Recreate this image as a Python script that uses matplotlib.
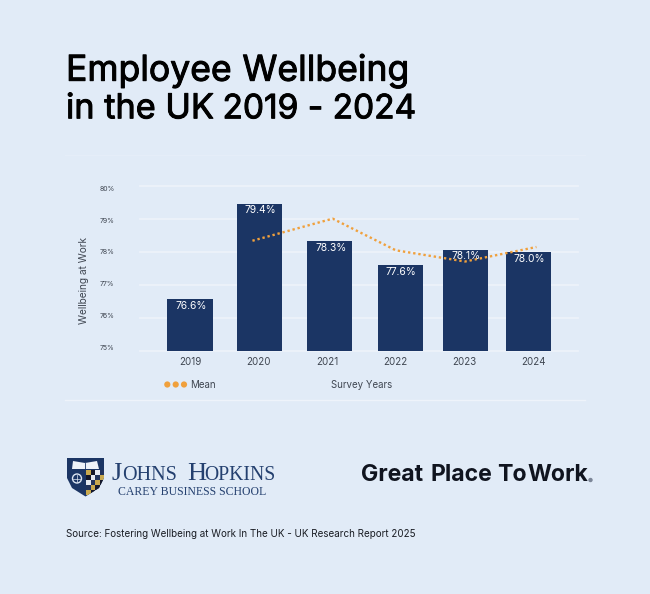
import matplotlib
matplotlib.use("Agg")
import matplotlib.pyplot as plt
import matplotlib.patheffects as pe
from matplotlib.patches import Polygon, Circle, Rectangle

years = [2019, 2020, 2021, 2022, 2023, 2024]
bar_values = [76.55, 79.45, 78.32, 77.58, 78.06, 77.98]
bar_labels = ['76.6%', '79.4%', '78.3%', '77.6%', '78.1%', '78.0%']
mean_years = [2020, 2021, 2022, 2023, 2024]
mean_values = [78.33, 79.0, 78.04, 77.7, 78.14]
y_ticks = [75, 76, 77, 78, 79, 80]
y_tick_labels = ['75%', '76%', '77%', '78%', '79%', '80%']

# the artwork is hand placed, so bars and line sit a little off the year ticks
bar_shift = [0, 0.02, 0.04, 0.07, 0.01, -0.06]
mean_shift = [-0.09, 0.08, 0.0, 0.01, 0.05]
# tick labels do not line up with the gridlines either, pixel rows from the top
y_label_rows = [347.7, 316, 284, 252.3, 220.7, 188.7]

BG = '#E1EBF7'
NAVY = '#1B3564'
ORANGE = '#F0A03C'
GRID = '#EEF3FA'
GREY = '#3F4651'
W, H = 650, 594

plt.rcParams['font.family'] = ['Inter', 'DejaVu Sans']
fig = plt.figure(figsize=(W / 100, H / 100), dpi=100, facecolor=BG)

# full figure axes in pixel coordinates for all the non chart parts
bg = fig.add_axes([0, 0, 1, 1])
bg.set_xlim(0, W)
bg.set_ylim(H, 0)
bg.axis('off')

# title, word groups placed separately to hit the original widths
heavier = [pe.withStroke(linewidth=0.7, foreground='black')]
for x, y, s, ha, size in [(66, 80.7, 'Employee', 'left', 25.6), (409, 80.7, 'Wellbeing', 'right', 25.6),
                          (66, 118.3, 'in the UK', 'left', 24.7), (416, 118.3, '2019 - 2024', 'right', 24.1)]:
    bg.text(x, y, s, fontsize=size, color='black', va='baseline', ha=ha, path_effects=heavier)

bg.plot([65, 585], [400, 400], color=GRID, lw=1)
bg.plot([65, 585], [155, 155], color='#E5EDF8', lw=1)

# chart, axes box runs 140-578 px across and 350.5-185.7 px down
ax = fig.add_axes([140 / W, 1 - 350.5 / H, 438 / W, (350.5 - 185.7) / H])
ax.set_facecolor('none')
px_per_year = 68.6
ax.set_xlim(2019 - 50 / px_per_year, 2019 + 388 / px_per_year)
ax.set_ylim(75, 80)
for t in y_ticks:
    ax.axhline(t, color=GRID, lw=1.2, zorder=1, clip_on=False)
bar_x = [y + s for y, s in zip(years, bar_shift)]
ax.bar(bar_x, [v - 75 for v in bar_values], bottom=75, width=0.656, color=NAVY, zorder=2)
for x, v, lab in zip(bar_x, bar_values, bar_labels):
    ax.text(x + 0.01, v - 0.2, lab, color='white', ha='center', va='center', fontsize=7.4, zorder=5)
mean_x = [y + s for y, s in zip(mean_years, mean_shift)]
ax.plot(mean_x, mean_values, color=ORANGE, lw=1.7, ls=(0, (1, 1.2)), zorder=4)
for s in ax.spines.values():
    s.set_visible(False)
ax.set_xticks(years)
ax.set_xticklabels(years, fontsize=7, color=GREY)
ax.set_yticks([])
ax.tick_params(length=0)
ax.tick_params(axis='x', pad=4.5)

for row, lab in zip(y_label_rows, y_tick_labels):
    bg.text(100, row, lab, fontsize=5, color=GREY, ha='left', va='center')

bg.text(84, 280, 'Wellbeing at Work', rotation=90, fontsize=7.3, color=GREY, ha='center', va='center')
bg.text(362, 384.5, 'Survey Years', fontsize=7, color=GREY, ha='center', va='center')
bg.text(190, 384.5, 'Mean', fontsize=7, color=GREY, ha='left', va='center')
for cx in [167.3, 175.7, 184]:
    bg.add_patch(Circle((cx, 384.5), 3.1, color=ORANGE, lw=0))

# Johns Hopkins shield
shield = Polygon([(67, 458), (104, 458), (104, 478), (99, 488), (85.5, 496.5), (72, 488), (67, 478)],
                 closed=True, color=NAVY, lw=0)
bg.add_patch(shield)
bg.add_patch(Polygon([(73, 461), (85, 463), (97, 461), (99, 469), (72, 469)], closed=True, color='#EEF2F8', lw=0))
bg.plot([85, 85], [463, 469], color=NAVY, lw=0.6)
bg.add_patch(Circle((77, 478.5), 5.2, fc='#DCE5F2', ec='none'))
bg.add_patch(Circle((77, 478.5), 3.8, fc=NAVY, ec='none'))
bg.plot([73, 81], [478.5, 478.5], color='#DCE5F2', lw=0.5)
bg.plot([77, 77], [475, 482], color='#DCE5F2', lw=0.5)
check = ['#C9A94E', '#15182A', '#E6EAF1', '#22345C']
for i in range(4):
    for j in range(5):
        r = Rectangle((86 + i * 4.5, 470 + j * 5), 4.5, 5, color=check[(i + j) % 4], lw=0)
        bg.add_patch(r)
        r.set_clip_path(shield)

# Johns Hopkins wordmark, small caps done by hand
serif = 'Liberation Serif'
jh_color = '#24406F'
bg.text(112, 480, 'J', family=serif, fontsize=19, color=jh_color, va='baseline')
bg.text(122, 480, 'OHNS', family=serif, fontsize=14.5, color=jh_color, va='baseline')
bg.text(187, 480, 'H', family=serif, fontsize=19, color=jh_color, va='baseline')
bg.text(204, 480, 'OPKINS', family=serif, fontsize=14.2, color=jh_color, va='baseline')
bg.text(118, 495, 'CAREY BUSINESS SCHOOL', family=serif, fontsize=8.5, color=jh_color, va='baseline')

# Great Place To Work wordmark, tight word spacing
for x, word in [(361, 'Great'), (430, 'Place'), (497, 'To'), (527, 'Work')]:
    bg.text(x, 481, word, fontsize=16.6, fontweight='bold', color='#10141F', va='baseline')
bg.add_patch(Circle((590.5, 480), 2.2, fc='#7C8698', ec='none'))

bg.text(66, 534, 'Source: Fostering Wellbeing at Work In The UK - UK Research Report 2025',
        fontsize=7.1, color='#1A1D24', va='center')

fig.savefig('out.png', dpi=100, facecolor=BG)
